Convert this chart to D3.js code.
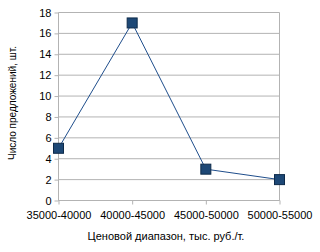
<!DOCTYPE html>
<html><head><meta charset="utf-8">
<script src="https://cdn.jsdelivr.net/npm/d3@7"></script>
<style>body{margin:0;background:#fff}svg{display:block}text{font-family:"Liberation Sans",Arial,sans-serif}</style>
</head><body>
<script>
const categories = ["35000-40000","40000-45000","45000-50000","50000-55000"];
const values = [5, 17, 3, 2];
const yTicks = [0,2,4,6,8,10,12,14,16,18];
const xTitle = "Ценовой диапазон, тыс. руб./т.";
const yTitle = "Число предложений, шт.";

const W = 320, H = 252;
const svg = d3.select("body").append("svg").attr("width", W).attr("height", H);
const x = d3.scalePoint().domain(categories).range([58.5, 279.5]);
const y = d3.scaleLinear().domain([0, 18]).range([200.5, 12.5]);

// gridlines
svg.append("g").selectAll("line").data(yTicks).join("line")
  .attr("x1", 58.5).attr("x2", 279.5)
  .attr("y1", d => y(d)).attr("y2", d => y(d))
  .attr("stroke", "#b3b3b3").attr("stroke-width", 1);
// right border
svg.append("line").attr("x1", 279.5).attr("x2", 279.5).attr("y1", y(18)).attr("y2", y(0))
  .attr("stroke", "#b3b3b3");

const yAxis = svg.append("g").attr("transform", "translate(58.5,0)")
  .call(d3.axisLeft(y).tickValues(yTicks).tickSize(4).tickPadding(3).tickFormat(d3.format("d")));
yAxis.select(".domain").attr("stroke", "#b3b3b3").attr("d", `M0,${y(18)}V${y(0)}`);
yAxis.selectAll(".tick line").attr("stroke", "#b3b3b3");
yAxis.selectAll("text").attr("font-size", 11).attr("fill", "#000").attr("font-family", "Liberation Sans, Arial, sans-serif");

const xAxis = svg.append("g").attr("transform", `translate(0,${y(0)})`)
  .call(d3.axisBottom(x).tickSize(4).tickPadding(7));
xAxis.select(".domain").attr("stroke", "#b3b3b3").attr("d", `M58.5,0H279.5`);
xAxis.selectAll(".tick line").attr("stroke", "#b3b3b3");
xAxis.selectAll("text").attr("font-size", 11).attr("fill", "#000").attr("font-family", "Liberation Sans, Arial, sans-serif");

svg.append("path").datum(values)
  .attr("d", d3.line().x((d, i) => x(categories[i])).y(d => y(d)))
  .attr("fill", "none").attr("stroke", "#1f4e8c").attr("stroke-width", 1);

svg.append("g").selectAll("rect").data(values).join("rect")
  .attr("x", (d, i) => x(categories[i]) - 5).attr("y", d => y(d) - 5)
  .attr("width", 10).attr("height", 10)
  .attr("fill", "#1d4876").attr("stroke", "#0d2a4a").attr("stroke-width", 1);

svg.append("text").attr("x", 166).attr("y", 240).attr("text-anchor", "middle")
  .attr("font-size", 11).text(xTitle);
svg.append("text").attr("transform", "translate(16,103) rotate(-90)").attr("text-anchor", "middle")
  .attr("font-size", 10).text(yTitle);
</script>
</body></html>
